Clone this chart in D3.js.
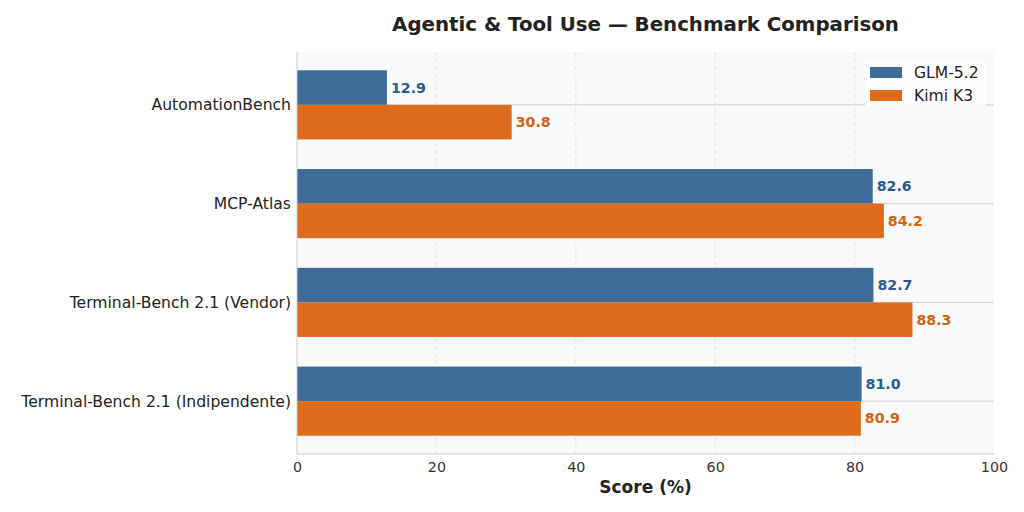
<!DOCTYPE html>
<html>
<head>
<meta charset="utf-8">
<script src="https://cdn.jsdelivr.net/npm/d3@7"></script>
<style>
  body { margin: 0; background: #fff; }
  text { font-family: "DejaVu Sans", sans-serif; }
</style>
</head>
<body>
<div id="chart"></div>
<script>
// Chart data
const categories = ["AutomationBench", "MCP-Atlas", "Terminal-Bench 2.1 (Vendor)", "Terminal-Bench 2.1 (Indipendente)"];
const seriesNames = ["GLM-5.2", "Kimi K3"];
const glmScores = [12.9, 82.6, 82.7, 81.0];
const kimiScores = [30.8, 84.2, 88.3, 80.9];
const xTicks = [0, 20, 40, 60, 80, 100];

const barColors = ["#3e6b98", "#dd6d1c"];
const labelColors = ["#2c5b8f", "#d4620f"];

const W = 1024, H = 512;
const margin = { top: 52, right: 30, bottom: 58, left: 297 };
const width = W - margin.left - margin.right;
const height = H - margin.top - margin.bottom;

const svg = d3.select("#chart")
    .append("svg")
    .attr("width", W)
    .attr("height", H);

const g = svg.append("g")
    .attr("transform", `translate(${margin.left},${margin.top})`);

// Scales (matplotlib-like: bars at integer positions, height 0.35 each)
const barH = 0.35;
const yScale = d3.scaleLinear()
    .domain([-0.535, categories.length - 1 + 0.535])
    .range([0, height]);

const xScale = d3.scaleLinear()
    .domain([0, 100])
    .range([0, width]);

// Plot background
g.append("rect")
    .attr("width", width)
    .attr("height", height)
    .attr("fill", "#f8f9fb");

// Vertical dashed grid
g.selectAll(".vgrid")
    .data(xTicks.slice(1, -1))
    .enter().append("line")
    .attr("x1", d => xScale(d))
    .attr("x2", d => xScale(d))
    .attr("y1", 0)
    .attr("y2", height)
    .attr("stroke", "#dcdde0")
    .attr("stroke-dasharray", "4,3")
    .attr("stroke-width", 0.8);

// Horizontal grid at category centers
g.selectAll(".hgrid")
    .data(categories)
    .enter().append("line")
    .attr("x1", 0)
    .attr("x2", width)
    .attr("y1", (d, i) => yScale(i))
    .attr("y2", (d, i) => yScale(i))
    .attr("stroke", "#cfd0d3")
    .attr("stroke-width", 1);

const series = [glmScores, kimiScores];

// Bars
series.forEach((vals, s) => {
    const off = s === 0 ? -barH : 0;
    g.selectAll(".bar" + s)
        .data(vals)
        .enter().append("rect")
        .attr("x", xScale(0))
        .attr("y", (d, i) => yScale(i + off))
        .attr("width", d => xScale(d) - xScale(0))
        .attr("height", yScale(barH) - yScale(0))
        .attr("fill", barColors[s]);

    g.selectAll(".lab" + s)
        .data(vals)
        .enter().append("text")
        .attr("x", d => xScale(d) + 4)
        .attr("y", (d, i) => yScale(i + off + barH / 2))
        .attr("dy", "0.35em")
        .attr("fill", labelColors[s])
        .style("font-size", "14.2px")
        .style("font-weight", "bold")
        .text(d => d.toFixed(1));
});

// Spines
g.append("line")
    .attr("x1", 0).attr("x2", 0)
    .attr("y1", 0).attr("y2", height)
    .attr("stroke", "#cccccc");
g.append("line")
    .attr("x1", 0).attr("x2", width)
    .attr("y1", height).attr("y2", height)
    .attr("stroke", "#cccccc");

// X axis ticks
const xAxis = g.append("g")
    .attr("transform", `translate(0,${height})`)
    .call(d3.axisBottom(xScale).tickValues(xTicks).tickSize(0).tickPadding(8));
xAxis.select(".domain").remove();
xAxis.selectAll("text")
    .style("font-size", "14.3px")
    .attr("fill", "#333333");

// Y axis labels
const yAxis = g.append("g")
    .call(d3.axisLeft(yScale).tickValues(d3.range(categories.length)).tickFormat(i => categories[i]).tickSize(0).tickPadding(6));
yAxis.select(".domain").remove();
yAxis.selectAll("text")
    .style("font-size", "15.6px")
    .attr("fill", "#222222");

// X axis label
svg.append("text")
    .attr("x", margin.left + width / 2)
    .attr("y", 493)
    .attr("text-anchor", "middle")
    .style("font-size", "17px")
    .style("font-weight", "bold")
    .attr("fill", "#222222")
    .text("Score (%)");

// Title
svg.append("text")
    .attr("x", margin.left + width / 2)
    .attr("y", 31)
    .attr("text-anchor", "middle")
    .style("font-size", "19.8px")
    .style("font-weight", "bold")
    .attr("fill", "#222222")
    .text("Agentic & Tool Use — Benchmark Comparison");

// Legend
const legend = g.append("g")
    .attr("transform", `translate(${width - 129}, 8)`);

legend.append("rect")
    .attr("width", 121)
    .attr("height", 46)
    .attr("fill", "#ffffff")
    .attr("fill-opacity", 0.85)
    .attr("rx", 2);

legend.selectAll(".lp")
    .data(seriesNames)
    .enter().append("rect")
    .attr("x", 5)
    .attr("y", (d, i) => 7 + i * 23)
    .attr("width", 32)
    .attr("height", 11)
    .attr("fill", (d, i) => barColors[i]);

legend.selectAll(".lt")
    .data(seriesNames)
    .enter().append("text")
    .attr("x", 49)
    .attr("y", (d, i) => 12.5 + i * 23)
    .attr("dy", "0.35em")
    .style("font-size", "15.6px")
    .attr("fill", "#222222")
    .text(d => d);
</script>
</body>
</html>
